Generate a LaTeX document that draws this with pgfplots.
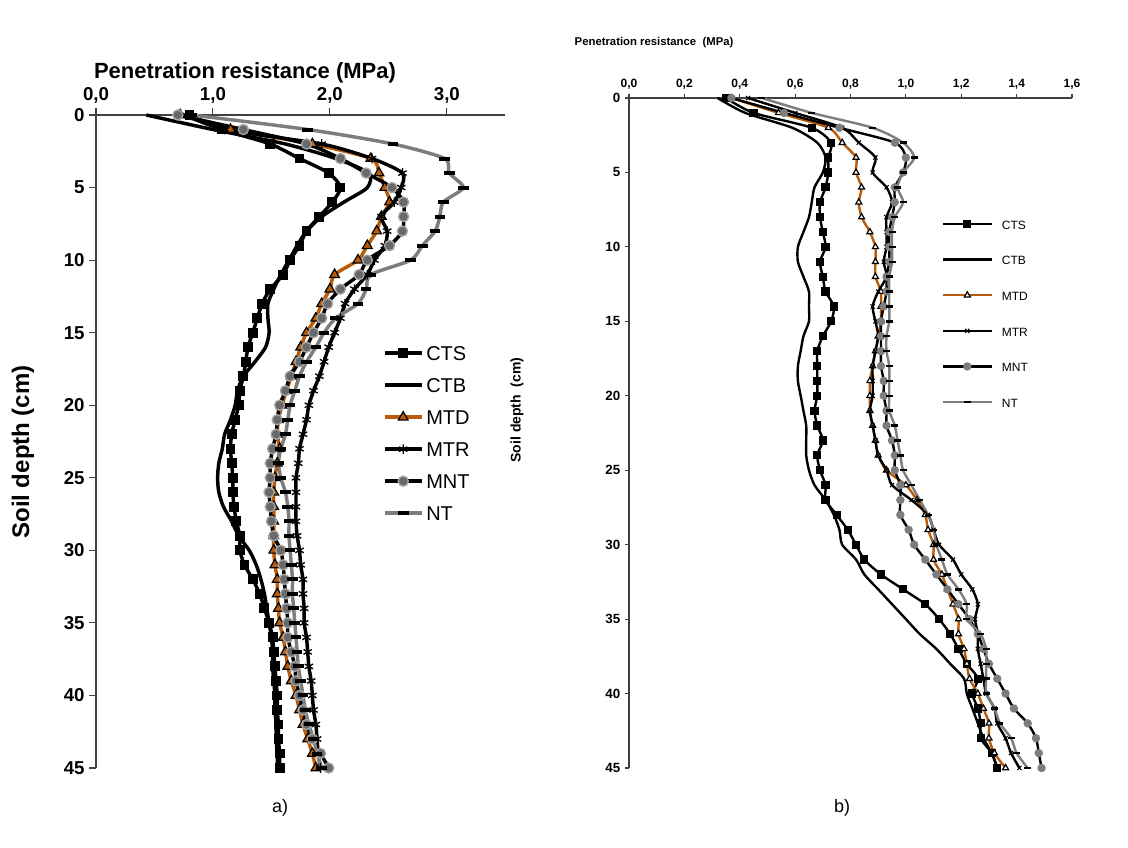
\documentclass[border=0pt]{standalone}
\usepackage{pgfplots}
\pgfplotsset{compat=1.18}
\usepackage{pgfplotstable}
\usepackage{fontspec}
\setmainfont{Liberation Sans}

\definecolor{mtdor}{RGB}{184,92,12}
\definecolor{ntgray}{RGB}{125,125,125}
\definecolor{mntfill}{RGB}{105,105,105}
\definecolor{mntedge}{RGB}{165,165,165}

% panel a) depth (cm) and penetration resistance (MPa)
\pgfplotstableread{
d CTS CTB MTD MTR MNT NT
0 0.80 0.43 0.72 0.77 0.70 0.82
1 1.08 1.00 1.15 1.10 1.26 1.81
2 1.49 1.62 1.85 1.93 1.80 2.54
3 1.74 2.05 2.35 2.36 2.09 2.98
4 1.99 2.33 2.42 2.62 2.31 3.02
5 2.09 2.32 2.47 2.61 2.53 3.14
6 2.02 2.12 2.51 2.55 2.63 2.97
7 1.91 1.93 2.44 2.44 2.63 2.94
8 1.80 1.80 2.40 2.49 2.62 2.90
9 1.74 1.72 2.32 2.47 2.51 2.79
10 1.66 1.65 2.24 2.38 2.32 2.69
11 1.60 1.58 2.04 2.32 2.25 2.35
12 1.49 1.52 2.00 2.21 2.09 2.31
13 1.42 1.47 1.93 2.13 1.98 2.24
14 1.38 1.47 1.88 2.09 1.93 2.05
15 1.34 1.48 1.80 2.04 1.86 1.95
16 1.30 1.45 1.75 1.99 1.80 1.88
17 1.28 1.36 1.71 1.95 1.74 1.80
18 1.26 1.26 1.67 1.91 1.66 1.74
19 1.23 1.21 1.63 1.86 1.62 1.70
20 1.22 1.19 1.59 1.82 1.57 1.66
21 1.19 1.15 1.56 1.80 1.55 1.64
22 1.16 1.10 1.55 1.77 1.54 1.62
23 1.15 1.08 1.57 1.74 1.51 1.58
24 1.16 1.05 1.55 1.73 1.49 1.56
25 1.17 1.04 1.53 1.71 1.49 1.58
26 1.17 1.05 1.52 1.71 1.48 1.62
27 1.18 1.09 1.52 1.71 1.49 1.64
28 1.20 1.16 1.52 1.71 1.50 1.65
29 1.23 1.22 1.52 1.72 1.52 1.65
30 1.23 1.31 1.52 1.74 1.58 1.66
31 1.27 1.37 1.53 1.75 1.60 1.67
32 1.34 1.41 1.55 1.77 1.61 1.68
33 1.40 1.44 1.55 1.77 1.62 1.68
34 1.44 1.46 1.56 1.78 1.63 1.69
35 1.48 1.48 1.57 1.78 1.64 1.70
36 1.51 1.50 1.60 1.80 1.64 1.71
37 1.52 1.51 1.62 1.81 1.67 1.72
38 1.53 1.51 1.64 1.82 1.70 1.73
39 1.54 1.52 1.67 1.84 1.71 1.75
40 1.55 1.53 1.71 1.85 1.74 1.77
41 1.55 1.53 1.74 1.86 1.77 1.79
42 1.56 1.54 1.77 1.88 1.80 1.82
43 1.56 1.54 1.81 1.89 1.85 1.86
44 1.57 1.55 1.85 1.90 1.92 1.89
45 1.57 1.55 1.88 1.92 1.99 1.93
}\dataA

% panel b)
\pgfplotstableread{
d CTS CTB MTD MTR MNT NT
0 0.35 0.32 0.37 0.43 0.37 0.48
1 0.45 0.42 0.54 0.60 0.56 0.66
2 0.66 0.59 0.72 0.77 0.76 0.88
3 0.73 0.68 0.77 0.83 0.96 0.99
4 0.72 0.71 0.82 0.89 1.00 1.03
5 0.72 0.70 0.82 0.88 0.99 0.99
6 0.71 0.67 0.84 0.93 0.96 0.97
7 0.69 0.66 0.83 0.95 0.96 0.99
8 0.69 0.65 0.84 0.93 0.95 0.96
9 0.70 0.63 0.87 0.93 0.94 0.95
10 0.71 0.61 0.89 0.93 0.94 0.95
11 0.69 0.61 0.89 0.92 0.94 0.95
12 0.70 0.63 0.89 0.93 0.93 0.94
13 0.71 0.65 0.91 0.90 0.93 0.94
14 0.74 0.65 0.91 0.88 0.92 0.94
15 0.73 0.65 0.91 0.89 0.91 0.94
16 0.70 0.63 0.90 0.90 0.91 0.93
17 0.68 0.62 0.89 0.89 0.91 0.93
18 0.68 0.61 0.88 0.88 0.91 0.94
19 0.68 0.61 0.87 0.88 0.92 0.94
20 0.68 0.62 0.87 0.88 0.92 0.94
21 0.67 0.63 0.87 0.87 0.93 0.94
22 0.68 0.64 0.88 0.88 0.93 0.96
23 0.70 0.64 0.89 0.89 0.95 0.97
24 0.68 0.64 0.90 0.90 0.96 0.98
25 0.69 0.65 0.93 0.93 0.96 0.99
26 0.71 0.67 1.00 0.95 0.98 1.02
27 0.71 0.71 1.04 1.02 0.98 1.05
28 0.75 0.74 1.07 1.08 0.98 1.08
29 0.79 0.76 1.08 1.10 1.01 1.10
30 0.82 0.77 1.10 1.12 1.03 1.11
31 0.85 0.82 1.10 1.17 1.07 1.13
32 0.91 0.85 1.13 1.20 1.11 1.15
33 0.99 0.90 1.15 1.24 1.15 1.19
34 1.07 0.95 1.17 1.26 1.19 1.22
35 1.12 1.00 1.19 1.25 1.23 1.22
36 1.16 1.05 1.19 1.26 1.26 1.27
37 1.19 1.11 1.21 1.26 1.28 1.29
38 1.22 1.16 1.22 1.27 1.30 1.29
39 1.26 1.21 1.23 1.28 1.33 1.29
40 1.24 1.22 1.26 1.29 1.36 1.29
41 1.26 1.24 1.28 1.32 1.39 1.32
42 1.27 1.26 1.30 1.33 1.44 1.34
43 1.27 1.28 1.30 1.36 1.47 1.38
44 1.31 1.31 1.32 1.38 1.48 1.40
45 1.33 1.33 1.36 1.41 1.49 1.44
}\dataB

\pgfplotsset{
  depthaxis/.style={
    scale only axis, anchor=north west, clip=false,
    y dir=reverse, ymin=0, ymax=45, ytick={0,5,...,45},
    axis x line*=top, axis y line*=left,
    tick align=outside,
    axis line style={black!75, line width=0.8pt},
    major tick style={black!75, line width=0.8pt},
    /pgf/number format/assume math mode=true,
    legend cell align=left,
  },
}

\begin{document}
\begin{tikzpicture}
\useasboundingbox (0pt,0pt) rectangle (846pt,-636pt);

% ---------- a) ----------
\begin{axis}[depthaxis,
  at={(72pt,-86.25pt)}, width=307pt, height=489.75pt,
  xmin=0, xmax=3.5, xtick={0,1,2,3},
  xticklabel style={font=\bfseries\fontsize{14}{16}\selectfont},
  yticklabel style={font=\bfseries\fontsize{14}{16}\selectfont},
  x tick label style={/pgf/number format/.cd, use comma, fixed, fixed zerofill, precision=1},
  major tick length=5pt,
  every axis plot/.append style={smooth, tension=0.45, line width=2.6pt},
  legend image code/.code={\draw[mark repeat=2,mark phase=2,#1] plot coordinates {(0pt,0pt) (14pt,0pt) (28pt,0pt)};},
  legend style={at={(axis cs:2.45,15.8)}, anchor=north west, draw=none, fill=none,
    inner sep=0pt, row sep=11pt,
    font=\fontsize{15}{17}\selectfont,
    nodes={inner sep=1pt, text height=11pt, text depth=0pt},
    /tikz/every odd column/.append style={column sep=1pt}},
]
\addplot[black, mark=square*, mark size=2.4pt, mark options={solid}] table[x=CTS,y=d]{\dataA};
\addlegendentry{CTS}
\addplot[black, no marks] table[x=CTB,y=d]{\dataA};
\addlegendentry{CTB}
\addplot[mtdor, mark=triangle*, mark size=4.2pt, mark options={fill=mtdor, draw=black, line width=0.9pt}] table[x=MTD,y=d]{\dataA};
\addlegendentry{MTD}
\addplot[black, mark=asterisk, mark size=3.6pt, mark options={line width=1pt}] table[x=MTR,y=d]{\dataA};
\addlegendentry{MTR}
\addplot[black, mark=*, mark size=3.8pt, mark options={fill=mntfill, draw=mntedge, line width=1pt}] table[x=MNT,y=d]{\dataA};
\addlegendentry{MNT}
\addplot[ntgray, mark=-, mark size=4pt, mark options={black, line width=3pt}] table[x=NT,y=d]{\dataA};
\addlegendentry{NT}
\end{axis}

% ---------- b) ----------
\begin{axis}[depthaxis,
  at={(471.75pt,-73.5pt)}, width=332.25pt, height=502.5pt,
  xmin=0, xmax=1.6, xtick={0,0.2,...,1.6},
  xticklabel style={font=\bfseries\fontsize{9}{10}\selectfont},
  yticklabel style={font=\bfseries\fontsize{10}{11}\selectfont},
  x tick label style={/pgf/number format/.cd, use comma, fixed, fixed zerofill, precision=1},
  major tick length=3pt,
  every axis plot/.append style={smooth, tension=0.45, line width=1.8pt},
  legend image code/.code={\draw[mark repeat=2,mark phase=2,#1] plot coordinates {(0pt,0pt) (18pt,0pt) (36pt,0pt)};},
  legend style={at={(axis cs:1.13,8.0)}, anchor=north west, draw=none, fill=none,
    inner sep=0pt, row sep=16.7pt,
    font=\fontsize{9}{10}\selectfont,
    nodes={inner sep=1pt, text height=8pt, text depth=0pt},
    /tikz/every odd column/.append style={column sep=6pt}},
]
\addplot[black, mark=square*, mark size=2.2pt] table[x=CTS,y=d]{\dataB};
\addlegendentry{CTS}
\addplot[black, no marks] table[x=CTB,y=d]{\dataB};
\addlegendentry{CTB}
\addplot[mtdor, mark=triangle*, mark size=2.6pt, mark options={fill=white, draw=black, line width=0.9pt}] table[x=MTD,y=d]{\dataB};
\addlegendentry{MTD}
\addplot[black, mark=x, mark size=2.2pt, mark options={line width=0.8pt}] table[x=MTR,y=d]{\dataB};
\addlegendentry{MTR}
\addplot[black, mark=*, mark size=2.2pt, mark options={fill=ntgray, draw=ntgray}] table[x=MNT,y=d]{\dataB};
\addlegendentry{MNT}
\addplot[ntgray, mark=-, mark size=2.6pt, mark options={black, line width=1.8pt}] table[x=NT,y=d]{\dataB};
\addlegendentry{NT}
\end{axis}

% titles and labels
\node[font=\bfseries\fontsize{16.5}{18}\selectfont] at (183.75pt,-54.75pt) {Penetration resistance (MPa)};
\node[font=\bfseries\fontsize{18}{20}\selectfont, rotate=90] at (17.25pt,-339pt) {Soil depth (cm)};
\node[font=\bfseries\fontsize{8.5}{10}\selectfont, anchor=west] at (427.5pt,-32.25pt) {Penetration resistance\ \ (MPa)};
\node[font=\bfseries\fontsize{10.5}{12}\selectfont, rotate=90] at (387.75pt,-307.5pt) {Soil depth\ \ (cm)};
\node[font=\fontsize{13.5}{15}\selectfont] at (210pt,-606pt) {a)};
\node[font=\fontsize{13.5}{15}\selectfont] at (631.5pt,-606pt) {b)};
\end{tikzpicture}
\end{document}
